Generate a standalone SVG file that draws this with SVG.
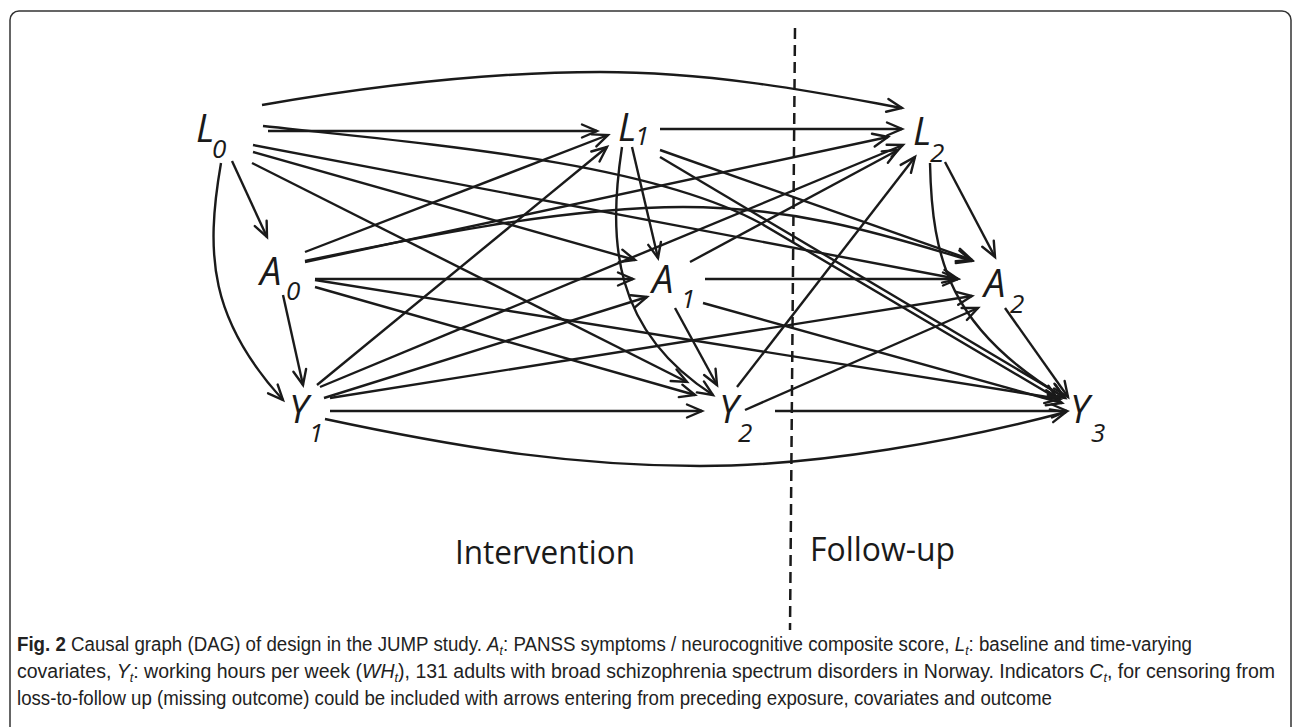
<svg xmlns="http://www.w3.org/2000/svg" width="1295" height="727" viewBox="0 0 1295 727">
<defs>
<style>
.e{fill:none;stroke:#1a1a1a;stroke-width:2.4;marker-end:url(#ah)}
.n{font-family:"Open Sans","DejaVu Sans",sans-serif;font-style:italic;fill:#1a1a1a;font-size:38px}
.s{font-size:26px}
.per{font-family:"Open Sans","DejaVu Sans",sans-serif;fill:#1a1a1a;font-size:32px}
.cap{font-family:"Liberation Sans",Arial,sans-serif;fill:#222;font-size:20px}
</style>
<marker id="ah" viewBox="-17 -9 20 18" refX="0" refY="0" markerWidth="20" markerHeight="18" markerUnits="userSpaceOnUse" orient="auto" overflow="visible">
<path d="M-15,-6.5 L0,0 L-15,6.5" fill="none" stroke="#1a1a1a" stroke-width="2.4" stroke-linecap="round"/>
</marker>
</defs>
<rect x="0" y="0" width="1295" height="727" fill="#fff"/>
<rect x="10" y="11" width="1281" height="760" rx="9" fill="none" stroke="#333" stroke-width="1.5"/>
<line x1="795" y1="28" x2="790" y2="630" stroke="#1a1a1a" stroke-width="2.5" stroke-dasharray="11 6"/>
<g id="connectors">
<path class="e" d="M232,161 L267,237"/>
<path class="e" d="M221,163 C205,255 210,320 283,400"/>
<path class="e" d="M268,131 L597,131"/>
<path class="e" d="M262,105 C360,88 480,72 600,72 S830,95 902,108"/>
<path class="e" d="M253,152 L635,260"/>
<path class="e" d="M252,163 L687,382"/>
<path class="e" d="M253,145 L958,279"/>
<path class="e" d="M263,126 C450,146 652,164 762,224 L1058,399"/>
<path class="e" d="M283,295 L303,385"/>
<path class="e" d="M305,252 L608,135"/>
<path class="e" d="M305,262 L888,137"/>
<path class="e" d="M315,279 L633,279"/>
<path class="e" d="M315,287 L695,395"/>
<path class="e" d="M305,261 C400,241 560,207 683,207 S900,240 972,261"/>
<path class="e" d="M315,280 L1060,399"/>
<path class="e" d="M317,385 L607,147"/>
<path class="e" d="M320,387 L903,145"/>
<path class="e" d="M324,398 L647,297"/>
<path class="e" d="M330,398 L972,296"/>
<path class="e" d="M330,411 L702,411"/>
<path class="e" d="M325,419 C470,450 580,466 700,466 S960,440 1066,412"/>
<path class="e" d="M632,147 L658,258"/>
<path class="e" d="M622,147 C608,240 612,330 713,395"/>
<path class="e" d="M660,129 L902,129"/>
<path class="e" d="M660,150 L972,260"/>
<path class="e" d="M660,157 L1064,397"/>
<path class="e" d="M675,308 L717,385"/>
<path class="e" d="M690,262 L898,150"/>
<path class="e" d="M705,279 L958,279"/>
<path class="e" d="M703,303 L1062,403"/>
<path class="e" d="M737,387 L915,157"/>
<path class="e" d="M745,410 L978,308"/>
<path class="e" d="M775,411 L1067,411"/>
<path class="e" d="M945,162 L995,257"/>
<path class="e" d="M930,163 C932,260 950,330 1065,398"/>
<path class="e" d="M1005,308 L1068,397"/>
</g>
<g id="L0"><text class="n" x="196" y="142">L</text><text class="n s" x="212" y="158">0</text></g>
<g id="L1"><text class="n" x="618" y="141">L</text><text class="n s" x="635" y="145">1</text></g>
<g id="L2"><text class="n" x="913" y="145">L</text><text class="n s" x="930" y="162">2</text></g>
<g id="A0"><text class="n" x="260" y="285">A</text><text class="n s" x="286" y="300">0</text></g>
<g id="A1"><text class="n" x="652" y="293">A</text><text class="n s" x="681" y="308">1</text></g>
<g id="A2"><text class="n" x="984" y="297">A</text><text class="n s" x="1010" y="313">2</text></g>
<g id="Y1"><text class="n" x="289" y="423">Y</text><text class="n s" x="309" y="442">1</text></g>
<g id="Y2"><text class="n" x="719" y="423">Y</text><text class="n s" x="738" y="442">2</text></g>
<g id="Y3"><text class="n" x="1070" y="423">Y</text><text class="n s" x="1091" y="442">3</text></g>
<g id="periods">
<text class="per" x="455" y="564" textLength="180" lengthAdjust="spacingAndGlyphs">Intervention</text>
<text class="per" x="810" y="561" textLength="145" lengthAdjust="spacingAndGlyphs">Follow-up</text>
</g>
<g id="caption">
<text class="cap" x="17" y="651" textLength="1175" lengthAdjust="spacingAndGlyphs"><tspan font-weight="bold">Fig. 2</tspan> Causal graph (DAG) of design in the JUMP study. <tspan font-style="italic">A</tspan><tspan font-style="italic" font-size="13" dy="4">t</tspan><tspan dy="-4">: PANSS symptoms / neurocognitive composite score, </tspan><tspan font-style="italic">L</tspan><tspan font-style="italic" font-size="13" dy="4">t</tspan><tspan dy="-4">: baseline and time-varying</tspan></text>
<text class="cap" x="17" y="678" textLength="1258" lengthAdjust="spacingAndGlyphs">covariates, <tspan font-style="italic">Y</tspan><tspan font-style="italic" font-size="13" dy="4">t</tspan><tspan dy="-4">: working hours per week (</tspan><tspan font-style="italic">WH</tspan><tspan font-style="italic" font-size="13" dy="4">t</tspan><tspan dy="-4">), 131 adults with broad schizophrenia spectrum disorders in Norway. Indicators </tspan><tspan font-style="italic">C</tspan><tspan font-style="italic" font-size="13" dy="4">t</tspan><tspan dy="-4">, for censoring from</tspan></text>
<text class="cap" x="17" y="705" textLength="1035" lengthAdjust="spacingAndGlyphs">loss-to-follow up (missing outcome) could be included with arrows entering from preceding exposure, covariates and outcome</text>
</g>
</svg>
